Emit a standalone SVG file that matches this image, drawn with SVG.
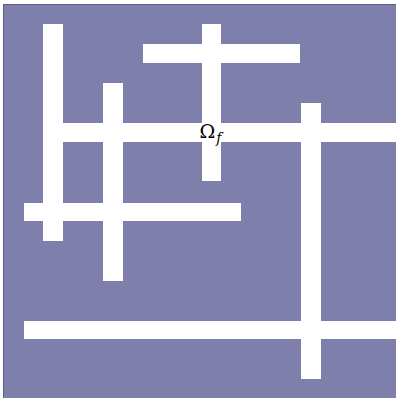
<svg xmlns="http://www.w3.org/2000/svg" width="396" height="398" viewBox="0 0 396 398">
  <style>
    .dom { fill: #7f7fab; stroke: #5e5e8c; stroke-width: 1; }
    .bar { fill: #ffffff; }
    .lbl { font-family: "DejaVu Serif", "Liberation Serif", serif; fill: #000000; }
  </style>
  <rect width="396" height="398" fill="#ffffff"/>
  <g id="domain">
    <rect class="dom" x="3.5" y="4.5" width="400" height="400"/>
  </g>
  <g id="fractures">
    <rect id="v1" class="bar" x="43" y="24" width="20" height="217"/>
    <rect id="v2" class="bar" x="103" y="83" width="20" height="198"/>
    <rect id="h-top" class="bar" x="143" y="44" width="157" height="19"/>
    <rect id="v-center" class="bar" x="202" y="24" width="19" height="157"/>
    <rect id="h-mid" class="bar" x="43" y="123" width="353" height="19"/>
    <rect id="v-right" class="bar" x="301" y="103" width="20" height="276"/>
    <rect id="h-low" class="bar" x="24" y="203" width="217" height="18"/>
    <rect id="h-bottom" class="bar" x="24" y="321" width="372" height="18"/>
  </g>
  <g id="label">
    <text class="lbl" x="199.5" y="137.5" font-size="19">Ω<tspan font-style="italic" font-size="14" dy="5" dx="1">f</tspan></text>
  </g>
</svg>
